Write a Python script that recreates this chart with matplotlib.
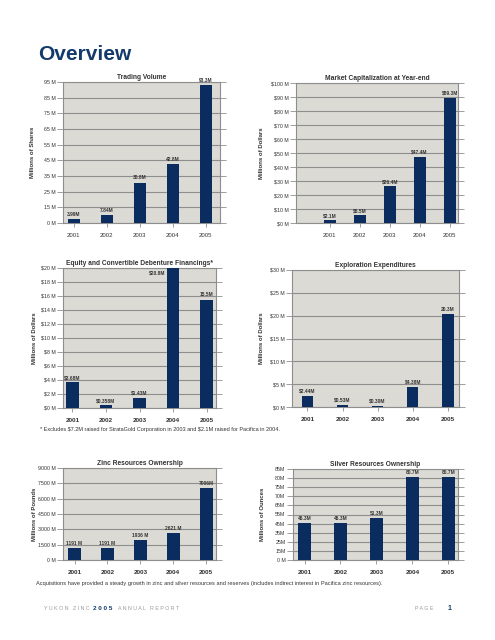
"""
Overview page: six bar charts (Yukon Zinc 2005 annual report)
"""
import matplotlib
matplotlib.use('Agg')
import matplotlib.pyplot as plt
import numpy as np

plt.rcParams['font.family'] = ['Liberation Sans', 'DejaVu Sans']

# ---- data ----
years = ['2001', '2002', '2003', '2004', '2005']

trading_volume = [3.99, 7.84, 30.8, 42.8, 93.3]
trading_labels = ['3.99M', '7.84M', '30.8M', '42.8M', '93.3M']
trading_yticks = [0, 15, 25, 35, 45, 55, 65, 75, 85, 95]

market_cap = [2.1, 5.5, 26.4, 47.4, 89.3]
market_cap_labels = ['$2.1M', '$5.5M', '$26.4M', '$47.4M', '$89.3M']
market_cap_yticks = [0, 10, 20, 30, 40, 50, 60, 70, 80, 90, 100]

financing = [3.68, 0.358, 1.43, 20.8, 15.5]
financing_labels = ['$3.68M', '$0.358M', '$1.43M', '$20.8M', '15.5M']
financing_yticks = [0, 2, 4, 6, 8, 10, 12, 14, 16, 18, 20]

exploration = [2.44, 0.53, 0.30, 4.38, 20.3]
exploration_labels = ['$2.44M', '$0.53M', '$0.30M', '$4.38M', '20.3M']
exploration_yticks = [0, 5, 10, 15, 20, 25, 30]

zinc = [1191, 1191, 1936, 2621, 7006]
zinc_labels = ['1191 M', '1191 M', '1936 M', '2621 M', '7006M']
zinc_yticks = [0, 1500, 3000, 4500, 6000, 7500, 9000]

silver = [45.3, 45.3, 51.3, 80.7, 80.7]
silver_labels = ['45.3M', '45.3M', '51.3M', '80.7M', '80.7M']
silver_yticks = [0, 15, 25, 35, 45, 55, 65, 70, 75, 80, 85]

# ---- style ----
NAVY = '#0b2c5e'
PANEL = '#dcdad4'
GRID = '#8e8e8e'
TEXT = '#333333'

W, H = 495, 640
fig = plt.figure(figsize=(W / 100, H / 100), dpi=100)
fig.patch.set_facecolor('white')


def make_axes(left, top, right, bottom):
    """axes placed by pixel box"""
    return fig.add_axes([left / W, 1 - bottom / H, (right - left) / W, (bottom - top) / H])


def bar_chart(ax, values, labels, yticks, yticklabels, title, ylabel,
              xlim, width, ylabel_px, bold_years=True, even_ticks=False):
    x = np.arange(len(values))
    ymax = yticks[-1]
    ax.set_facecolor(PANEL)

    # 原图的刻度间距不均匀但画成等距：用分段线性的刻度尺
    if even_ticks:
        steps = np.arange(len(yticks), dtype=float)
        tk = np.array(yticks, dtype=float)
        ax.set_yscale('function', functions=(lambda v: np.interp(v, tk, steps),
                                             lambda u: np.interp(u, steps, tk)))

    ax.bar(x, values, width=width, color=NAVY, zorder=3)
    ax.set_xlim(*xlim)
    ax.set_ylim(0, ymax)

    ax.set_yticks(yticks)
    ax.set_yticklabels(yticklabels)
    ax.minorticks_off()
    ax.set_xticks(x)
    ax.set_xticklabels(years, fontweight='bold' if bold_years else 'normal',
                       fontsize=4.6 if bold_years else 4.3)
    ax.yaxis.grid(True, color=GRID, lw=0.8)
    ax.set_axisbelow(True)
    ax.tick_params(axis='y', left=True, right=True, direction='out', length=4,
                   width=0.6, color=GRID, labelsize=3.8, labelcolor=TEXT, pad=1.5)
    ax.tick_params(axis='x', direction='out', length=3, width=0.6, color=GRID,
                   labelcolor=TEXT, pad=4)
    for s in ax.spines.values():
        s.set_color(GRID)
        s.set_linewidth(0.8)

    ax.set_title(title, fontsize=4.8, fontweight='bold', color=TEXT, pad=2.5)
    ax.set_ylabel(ylabel, fontsize=4.3, fontweight='bold', color=TEXT)
    box = ax.get_position()
    ax.yaxis.set_label_coords(-ylabel_px / (box.width * W), 0.5)

    # value labels
    for xi, v, lab in zip(x, values, labels):
        if v > ymax:
            ax.annotate(lab, (xi - width / 2, ymax), xytext=(-1, -2),
                        textcoords='offset points', ha='right', va='top',
                        fontsize=3.5, fontweight='bold', color=TEXT)
        else:
            ax.annotate(lab, (xi, v), xytext=(0, 1.5), textcoords='offset points',
                        ha='center', va='bottom', fontsize=3.5,
                        fontweight='bold', color=TEXT, annotation_clip=False)


# heading
fig.text(38 / W, 1 - 60 / H, 'Overview', fontsize=15, fontweight='bold',
         color='#143a6c', family=['Liberation Sans Narrow', 'Liberation Sans'],
         va='baseline')

# row 1
ax1 = make_axes(63, 82, 220, 223)
bar_chart(ax1, trading_volume, trading_labels, trading_yticks,
          ['%d M' % t for t in trading_yticks], 'Trading Volume',
          'Millions of Shares', (-0.33, 4.43), 0.37, 28, bold_years=False,
          even_ticks=True)

ax2 = make_axes(296, 83, 458, 223)
bar_chart(ax2, market_cap, market_cap_labels, market_cap_yticks,
          ['$%d M' % t for t in market_cap_yticks], 'Market Capitalization at Year-end',
          'Millions of Dollars', (-1.13, 4.28), 0.4, 32, bold_years=False)

# row 2
ax3 = make_axes(63, 268, 216, 408)
bar_chart(ax3, financing, financing_labels, financing_yticks,
          ['$%d M' % t for t in financing_yticks],
          'Equity and Convertible Debenture Financings*',
          'Millions of Dollars', (-0.28, 4.28), 0.37, 26)

ax4 = make_axes(292, 270, 459, 407)
bar_chart(ax4, exploration, exploration_labels, exploration_yticks,
          ['$%d M' % t for t in exploration_yticks], 'Exploration Expenditures',
          'Millions of Dollars', (-0.44, 4.32), 0.33, 28)

fig.text(40 / W, 1 - 430 / H,
         '* Excludes $7.2M raised for StrataGold Corporation in 2003 and $2.1M raised for Pacifica in 2004.',
         fontsize=4.0, color=TEXT, va='center', parse_math=False)

# row 3
ax5 = make_axes(63, 468, 216, 560)
bar_chart(ax5, zinc, zinc_labels, zinc_yticks,
          ['%d M' % t for t in zinc_yticks], 'Zinc Resources Ownership',
          'Millions of Pounds', (-0.35, 4.3), 0.4, 26)

ax6 = make_axes(293, 469, 458, 560)
silver_ticklabels = ['0 M'] + ['%dM' % t for t in silver_yticks[1:]]
bar_chart(ax6, silver, silver_labels, silver_yticks, silver_ticklabels,
          'Silver Resources Ownership', 'Millions of Ounces', (-0.32, 4.27), 0.35, 28,
          even_ticks=True)

fig.text(36 / W, 1 - 584 / H,
         'Acquisitions have provided a steady growth in zinc and silver resources and reserves '
         '(includes indirect interest in Pacifica zinc resources).',
         fontsize=4.1, color=TEXT, va='center')

# footer
fy = 1 - 609 / H
fig.text(44 / W, fy, 'Y U K O N   Z I N C', fontsize=3.8, color='#9a9a9a', va='center')
fig.text(93 / W, fy, '2 0 0 5', fontsize=4.6, fontweight='bold', color='#143a6c', va='center')
fig.text(118 / W, fy, 'A N N U A L   R E P O R T', fontsize=3.8, color='#9a9a9a', va='center')
fig.text(415 / W, fy, 'P A G E', fontsize=3.8, color='#9a9a9a', va='center')
fig.text(448 / W, fy, '1', fontsize=5, fontweight='bold', color='#143a6c', va='center')

plt.savefig('out.png', dpi=100)
plt.close()
